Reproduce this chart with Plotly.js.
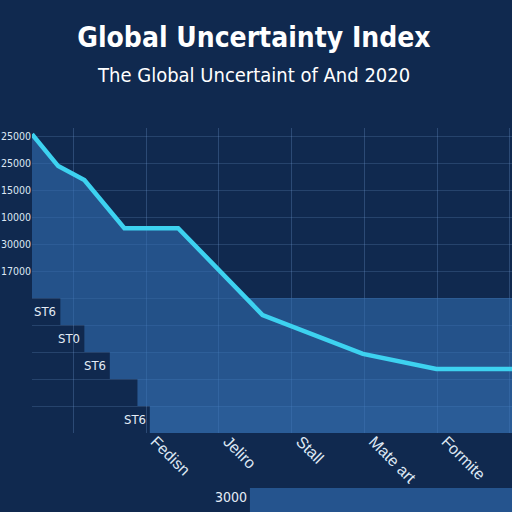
<!DOCTYPE html>
<html>
<head>
<meta charset="utf-8">
<script src="https://cdn.plot.ly/plotly-3.0.1.min.js"></script>
<style>
  html, body { margin: 0; padding: 0; background: #10294f; }
  #chart { width: 512px; height: 512px; }
</style>
</head>
<body>
<div id="chart"></div>
<script>
// ---- data ----
const xPositions = [-1.57, -1.21, -0.85, -0.30, 0.44, 1.60, 2.98, 3.99, 5.03];
const indexValues = [11070, 9890, 9370, 7590, 7590, 4370, 2930, 2370, 2370];

const xTickVals = [-1, 0, 1, 2, 3, 4, 5];
const xTickText = ['', 'Fedisn', 'Jeliro', 'Stall', 'Mate art', 'Formite', ''];

const yTickVals = [0, 1000, 2000, 3000, 4000, 5000, 6000, 7000, 8000, 9000, 10000, 11000];
const yTickText = ['', '', '', '', '', '', '17000', '30000', '10000', '15000', '25000', '25000'];

// staircase bands on the lower left
const stepLevels = [4500, 3500, 2500, 1500, 500];
const stepStarts = [-1.18, -0.85, -0.50, -0.12, 0.05];
const stepLabels = ['ST6', 'ST0', 'ST6', '', 'ST6'];
const stepTop = 5000;

const bottomLabel = '3000';

// ---- chart ----
const xEnd = xPositions[xPositions.length - 1];

// outline of the area that lies under the line and above the staircase top
const polyX = [], polyY = [];
for (let i = 0; i < xPositions.length; i++) {
  const v = indexValues[i];
  if (v >= stepTop) { polyX.push(xPositions[i]); polyY.push(v); }
  if (i < xPositions.length - 1) {
    const a = v - stepTop, b = indexValues[i + 1] - stepTop;
    if (a * b < 0) {
      const xc = xPositions[i] + (a / (a - b)) * (xPositions[i + 1] - xPositions[i]);
      polyX.push(xc); polyY.push(stepTop);
    }
  }
}
polyX.push(xPositions[0]); polyY.push(stepTop);

const cond = 'DejaVu Sans Condensed, DejaVu Sans, sans-serif';
const areaCol = 'rgba(50,110,178,0.60)';

const traces = [
  {
    type: 'bar',
    orientation: 'h',
    y: stepLevels,
    base: stepStarts,
    x: stepStarts.map(s => xEnd - s),
    width: 1000,
    marker: { color: ['rgba(50,110,178,0.58)', 'rgba(50,110,178,0.60)', 'rgba(52,113,181,0.62)',
                      'rgba(54,116,184,0.64)', 'rgba(56,119,188,0.66)'], line: { width: 0 } },
    hoverinfo: 'skip',
    showlegend: false
  },
  {
    type: 'scatter',
    mode: 'lines',
    x: polyX,
    y: polyY,
    fill: 'toself',
    fillcolor: areaCol,
    line: { width: 0, color: 'rgba(0,0,0,0)', simplify: false },
    hoverinfo: 'skip',
    showlegend: false
  },
  {
    type: 'scatter',
    mode: 'lines',
    x: xPositions,
    y: indexValues,
    line: { color: '#3dd2f0', width: 4.5 },
    showlegend: false
  }
];

const annotations = stepLabels.map((t, i) => ({
  text: t,
  x: stepStarts[i],
  y: stepLevels[i],
  xref: 'x', yref: 'y',
  xanchor: 'right', yanchor: 'middle',
  xshift: -2,
  showarrow: false,
  font: { family: cond, size: 13, color: '#e4ecf7' }
}));

annotations.push({
  text: 'The Global Uncertaint of And 2020',
  xref: 'paper', yref: 'paper',
  x: 0.461, y: 1.174,
  xanchor: 'center', yanchor: 'middle',
  showarrow: false,
  font: { family: cond, size: 20, color: '#ffffff' }
});

annotations.push({
  text: bottomLabel,
  xref: 'paper', yref: 'paper',
  x: 0.452, y: -0.21,
  xanchor: 'right', yanchor: 'middle',
  showarrow: false,
  font: { family: cond, size: 14, color: '#e4ecf7' }
});

const layout = {
  width: 512,
  height: 512,
  margin: { l: 32, r: 0, t: 128, b: 79 },
  paper_bgcolor: '#10294f',
  plot_bgcolor: '#10294f',
  barmode: 'overlay',
  title: {
    text: '<b>Global Uncertainty Index</b>',
    x: 0.496, xanchor: 'center',
    y: 1 - 37 / 512, yanchor: 'middle', yref: 'container',
    font: { family: cond, size: 28, color: '#ffffff' }
  },
  xaxis: {
    range: [-1.57, 5.03],
    tickmode: 'array',
    tickvals: xTickVals,
    ticktext: xTickText,
    tickangle: 45,
    ticklabelshift: 9,
    ticklabelstandoff: -5,
    tickfont: { family: 'Liberation Sans, Arial, sans-serif', size: 16, color: '#dde7f4' },
    showgrid: true,
    gridcolor: 'rgba(120,160,215,0.28)',
    gridwidth: 1,
    zeroline: false,
    showline: false,
    ticks: ''
  },
  yaxis: {
    range: [0, 11300],
    tickmode: 'array',
    tickvals: yTickVals,
    ticktext: yTickText,
    tickfont: { family: cond, size: 10.5, color: '#dde7f4' },
    showgrid: true,
    gridcolor: 'rgba(120,160,215,0.22)',
    gridwidth: 1,
    zeroline: false,
    showline: false,
    ticks: ''
  },
  shapes: [
    {
      type: 'rect',
      xref: 'paper', yref: 'paper',
      x0: 0.454, x1: 1, y0: -0.27, y1: -0.18,
      fillcolor: 'rgba(50,110,178,0.64)',
      line: { width: 0 },
      layer: 'below'
    }
  ],
  annotations: annotations
};

Plotly.newPlot('chart', traces, layout, { displayModeBar: false, staticPlot: true });
</script>
</body>
</html>
